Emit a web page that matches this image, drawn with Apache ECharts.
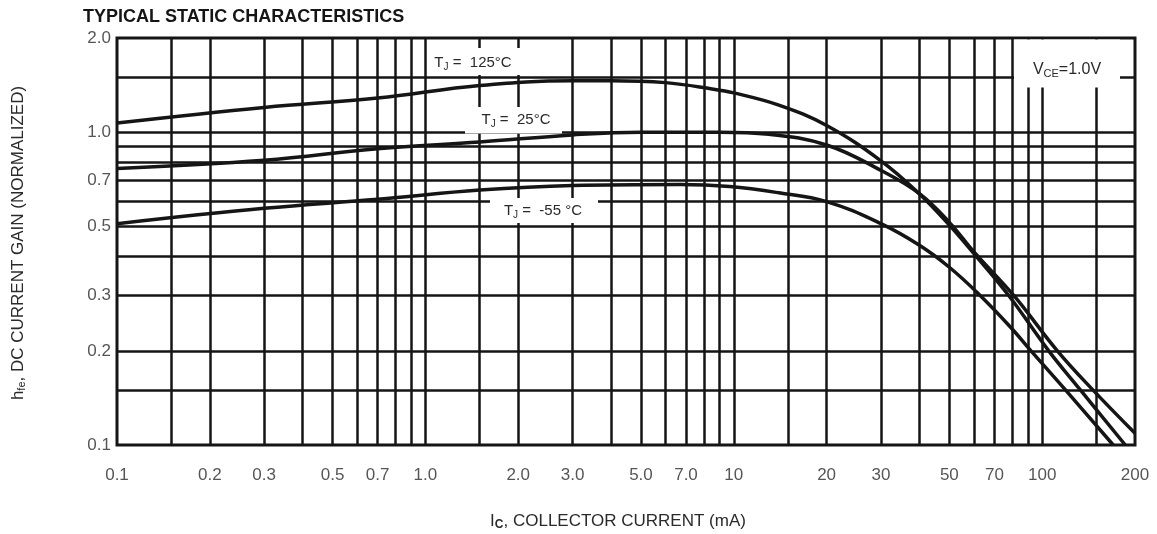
<!DOCTYPE html>
<html>
<head>
<meta charset="utf-8">
<title>Typical Static Characteristics</title>
<script src="https://cdn.jsdelivr.net/npm/echarts@6/dist/echarts.min.js"></script>
<style>
  html, body { margin: 0; padding: 0; background: #fff; }
  #chart { width: 1157px; height: 534px; }
</style>
</head>
<body>
<div id="chart"></div>
<script>
// Collector current (mA) and normalized DC current gain for each junction temperature
const ic125 = [0.1, 0.3, 0.7, 1.5, 3, 4, 6, 8.5, 10, 14, 20, 30, 40, 50, 60, 78, 105, 133, 186];
const hfe125 = [1.07, 1.2, 1.285, 1.41, 1.46, 1.46, 1.44, 1.375, 1.335, 1.22, 1.05, 0.81, 0.635, 0.505, 0.41, 0.3, 0.2, 0.15, 0.1];

const ic25 = [0.1, 0.3, 0.7, 1.5, 3, 5, 9, 13, 20, 30, 40, 50, 60, 81, 112, 146, 200];
const hfe25 = [0.765, 0.813, 0.885, 0.93, 0.98, 1.0, 1.0, 0.985, 0.91, 0.755, 0.636, 0.515, 0.415, 0.3, 0.2, 0.15, 0.109];

const icM55 = [0.1, 0.3, 0.7, 1.5, 3, 6.7, 9.7, 14, 20, 30, 40, 50, 62, 79, 92, 119, 170];
const hfeM55 = [0.51, 0.571, 0.61, 0.653, 0.675, 0.68, 0.67, 0.64, 0.6, 0.51, 0.435, 0.37, 0.305, 0.238, 0.2, 0.15, 0.1];

// Tick labels
const xTickValues = [0.1, 0.2, 0.3, 0.5, 0.7, 1, 2, 3, 5, 7, 10, 20, 30, 50, 70, 100, 200];
const xTickText = ['0.1', '0.2', '0.3', '0.5', '0.7', '1.0', '2.0', '3.0', '5.0', '7.0', '10', '20', '30', '50', '70', '100', '200'];
const yTickValues = [0.1, 0.2, 0.3, 0.5, 0.7, 1, 2];
const yTickText = ['0.1', '0.2', '0.3', '0.5', '0.7', '1.0', '2.0'];

// Grid rulings inside the plot
const xGridValues = [0.15, 0.2, 0.3, 0.4, 0.5, 0.6, 0.7, 0.8, 0.9,
                     1, 1.5, 2, 3, 4, 5, 6, 7, 8, 9,
                     10, 15, 20, 30, 40, 50, 60, 70, 80, 90,
                     100, 150];
const yGridValues = [0.15, 0.2, 0.3, 0.4, 0.5, 0.6, 0.7, 0.8, 0.9, 1.0, 1.5];

const X_MIN = 0.1, X_MAX = 200, Y_MIN = 0.1, Y_MAX = 2.0;

const FONT = '"Liberation Sans", Arial, Helvetica, sans-serif';
const INK = '#151515';
const TEXT = '#2a2a2a';

const chart = echarts.init(document.getElementById('chart'), null, { renderer: 'canvas' });

const pair = (xs, ys) => xs.map((x, i) => [x, ys[i]]);

const hiddenAxis = {
  type: 'log',
  logBase: 10,
  axisLine: { show: false },
  axisTick: { show: false },
  axisLabel: { show: false },
  splitLine: { show: false }
};

const curve = (name, data) => ({
  name,
  type: 'line',
  data,
  z: 5,
  smooth: 0.4,
  showSymbol: false,
  symbol: 'none',
  silent: true,
  lineStyle: { color: INK, width: 3.5 },
  clip: true
});

const richText = (size, subSize, subPad, subBold) => ({
  b: { fontSize: size, fontFamily: FONT, fill: TEXT, lineHeight: size + 4 },
  s: { fontSize: subSize, fontFamily: FONT, fill: TEXT, fontWeight: subBold ? 'bold' : 'normal',
       padding: [subPad, 0, 0, 0], lineHeight: size + 4 }
});

const labelBox = (x, y, w, h) => ({
  type: 'rect', z: 100, silent: true,
  shape: { x, y, width: w, height: h },
  style: { fill: '#ffffff' }
});

const labelText = (x, y, text, size, subSize, subPad) => ({
  type: 'text', z: 101, silent: true, x, y,
  style: { text, align: 'center', verticalAlign: 'middle', rich: richText(size, subSize, subPad, false) }
});

const option = {
  animation: false,
  backgroundColor: '#ffffff',
  grid: {
    left: 117, right: 22, top: 38, bottom: 89,
    show: true, borderColor: INK, borderWidth: 3, backgroundColor: '#ffffff'
  },
  xAxis: Object.assign({ min: X_MIN, max: X_MAX }, hiddenAxis),
  yAxis: Object.assign({ min: Y_MIN, max: Y_MAX }, hiddenAxis),
  series: [
    {
      name: 'rulings',
      type: 'line',
      data: [],
      z: 1,
      silent: true,
      markLine: {
        silent: true,
        symbol: ['none', 'none'],
        label: { show: false },
        emphasis: { disabled: true },
        lineStyle: { color: INK, width: 2.5, type: 'solid' },
        data: xGridValues.map(v => ({ xAxis: v })).concat(yGridValues.map(v => ({ yAxis: v })))
      }
    },
    curve('TJ = 125°C', pair(ic125, hfe125)),
    curve('TJ = 25°C', pair(ic25, hfe25)),
    curve('TJ = -55°C', pair(icM55, hfeM55)),
    {
      name: 'x ticks',
      type: 'scatter',
      silent: true,
      clip: false,
      symbolSize: 0,
      itemStyle: { color: 'transparent' },
      data: xTickValues.map(v => [v, Y_MIN]),
      label: {
        show: true, position: 'bottom', distance: 22,
        formatter: p => xTickText[p.dataIndex],
        fontSize: 17, fontFamily: FONT, color: TEXT
      }
    },
    {
      name: 'y ticks',
      type: 'scatter',
      silent: true,
      clip: false,
      symbolSize: 0,
      itemStyle: { color: 'transparent' },
      data: yTickValues.map(v => [X_MIN, v]),
      label: {
        show: true, position: 'left', distance: 6,
        formatter: p => yTickText[p.dataIndex],
        fontSize: 17, fontFamily: FONT, color: TEXT
      }
    }
  ],
  graphic: [
    {
      type: 'text', x: 83, y: 17, silent: true,
      style: {
        text: 'TYPICAL STATIC CHARACTERISTICS',
        fontSize: 18, fontWeight: 'bold', fontFamily: FONT, fill: INK,
        align: 'left', verticalAlign: 'middle'
      }
    },
    {
      type: 'text', x: 18, y: 243, rotation: Math.PI / 2, silent: true,
      style: {
        text: '{b|h}{s|fe}{b|, DC CURRENT GAIN (NORMALIZED)}',
        align: 'center', verticalAlign: 'middle',
        rich: richText(17, 11, 8, false)
      }
    },
    {
      type: 'text', x: 618, y: 521, silent: true,
      style: {
        text: '{b|I}{s|C}{b|, COLLECTOR CURRENT (mA)}',
        align: 'center', verticalAlign: 'middle',
        rich: richText(17, 12, 8, true)
      }
    },
    labelBox(428, 48, 92, 27),
    labelText(473, 63, '{b|T}{s|J}{b| =  125°C}', 15, 10, 8),
    labelBox(465, 107, 97, 26.5),
    labelText(516, 120, '{b|T}{s|J}{b| =  25°C}', 15, 10, 8),
    labelBox(490, 198, 108, 25),
    labelText(543, 211, '{b|T}{s|J}{b| =  -55 °C}', 15, 10, 8),
    labelBox(1014, 39.5, 106, 48),
    labelText(1067, 70, '{b|V}{s|CE}{b|=1.0V}', 16, 11, 8)
  ]
};

chart.setOption(option);
</script>
</body>
</html>
